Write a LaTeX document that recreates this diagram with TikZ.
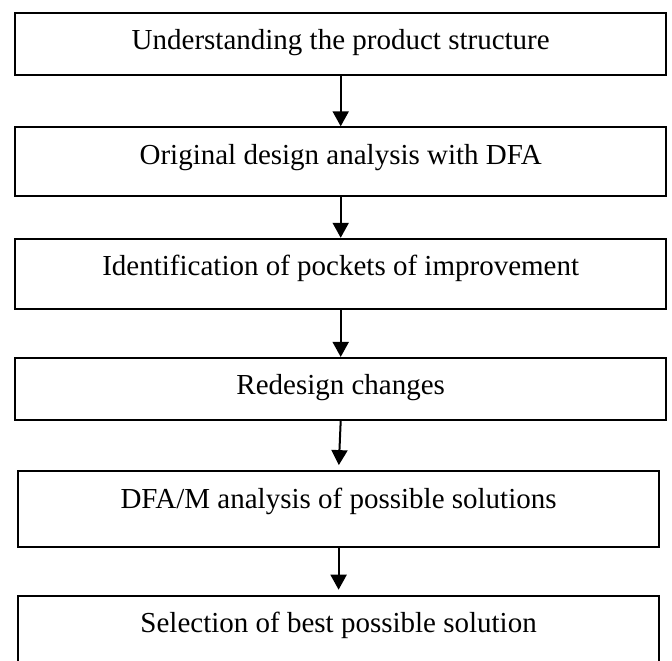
\documentclass[tikz,border=0pt]{standalone}
\usepackage{fontspec}
\setmainfont{Liberation Serif}
\usetikzlibrary{arrows.meta}
\tikzset{
	stage/.style={draw=black, line width=0.8pt, inner sep=0pt, anchor=north, text height=14.8pt, font=\fontsize{11.6}{14}\selectfont},
	stagewide/.style={stage, minimum width=260.6pt},
	stagenarrow/.style={stage, minimum width=256.2pt},
	flow/.style={line width=0.8pt, -{Triangle[width=6.4pt,length=6pt]}}
}
\begin{document}
\begin{tikzpicture}[x=0.4pt,y=-0.4pt]
				\useasboundingbox (0,0) rectangle (672,660);
				
				\node[stagewide, text depth=9.9pt] (s1) at (340.7,11.8) {Understanding the product structure};
				\node[stagewide, text depth=12.6pt] (s2) at (340.7,126.3) {Original design analysis with DFA};
				\node[stagewide, text depth=13.1pt] (s3) at (340.7,237.8) {Identification of pockets of improvement};
				\node[stagewide, text depth=10pt] (s4) at (340.7,356.9) {Redesign changes};
				\node[stagenarrow, text depth=15.6pt] (s5) at (338.6,470.1) {DFA/M analysis of possible solutions};
				\node[stagenarrow, text depth=20pt] (s6) at (338.6,594.7) {Selection of best possible solution};
				
				\draw[flow] (s1.south) -- (s2.north);
				\draw[flow] (s2.south) -- (s3.north);
				\draw[flow] (s3.south) -- (s4.north);
				\draw[flow, shorten >=2pt] (s4.south) -- (s5.north);
				\draw[flow, shorten >=2pt] (s5.south) -- (s6.north);
			\end{tikzpicture}
\end{document}
